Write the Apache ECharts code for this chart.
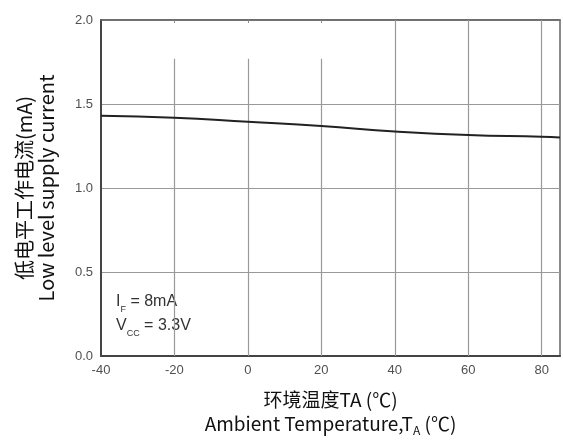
<!DOCTYPE html>
<html>
<head>
<meta charset="utf-8">
<script src="https://cdn.jsdelivr.net/npm/echarts@6/dist/echarts.min.js"></script>
<style>
html,body{margin:0;padding:0;background:#fff;}
#chart{width:563px;height:441px;}
</style>
</head>
<body>
<div id="chart"></div>
<script>
// Ambient temperature (°C) and low-level supply current (mA)
const temperature = [-40, -20, 0, 20, 40, 60, 80, 85];
const supplyCurrent = [1.43, 1.418, 1.394, 1.369, 1.337, 1.315, 1.305, 1.300];
const xTicks = [-40, -20, 0, 20, 40, 60, 80];
const yTicks = [0.0, 0.5, 1.0, 1.5, 2.0];
// Vertical grid lines that stop short of the top border
const shortGridX = [-20, 0, 20];
const shortGridTop = 1.77;
const fullGridX = [40, 60, 80];

const chart = echarts.init(document.getElementById('chart'));
const sans = '"Liberation Sans", Arial, sans-serif';
const cjk = '"Noto Sans CJK SC", "Open Sans", sans-serif';

chart.setOption({
  animation: false,
  grid: {
    left: 101, right: 3, top: 20, bottom: 85,
    outerBoundsMode: 'none',
    show: true, borderColor: '#666', borderWidth: 1.5
  },
  xAxis: [{
    type: 'value', min: -40, max: 85, interval: 20,
    axisLine: { show: true, onZero: false, lineStyle: { color: '#444', width: 2 } },
    axisTick: { show: false },
    splitLine: { show: false },
    axisLabel: {
      color: '#505050', fontFamily: sans, fontSize: 13, margin: 8,
      customValues: xTicks,
      formatter: v => String(v)
    },
    name: '{cn|环境温度TA (℃)}\n{en|Ambient Temperature,T}{sub|A}{en| (℃)}',
    nameLocation: 'middle',
    nameGap: 32,
    nameTextStyle: {
      rich: {
        cn: { fontFamily: cjk, fontSize: 19, color: '#111', lineHeight: 24 },
        en: { fontFamily: cjk, fontSize: 19, color: '#111', lineHeight: 24 },
        sub: { fontFamily: cjk, fontSize: 12, color: '#111', verticalAlign: 'bottom', padding: [9, 0, 0, 0], lineHeight: 24 }
      }
    }
  }, {
    type: 'value', position: 'top', min: -40, max: 85, interval: 20,
    axisLine: { show: true, onZero: false, lineStyle: { color: '#666', width: 1.5 } },
    axisTick: { show: true, inside: true, length: 3, customValues: shortGridX, lineStyle: { color: '#888' } },
    axisLabel: { show: false },
    splitLine: { show: false }
  }],
  yAxis: {
    type: 'value', min: 0, max: 2, interval: 0.5,
    axisLine: { show: true, onZero: false, lineStyle: { color: '#444', width: 2 } },
    axisTick: { show: false },
    splitLine: { show: true, lineStyle: { color: '#999', width: 1.2 } },
    axisLabel: {
      color: '#505050', fontFamily: sans, fontSize: 13, margin: 8,
      formatter: v => yTicks.includes(v) ? v.toFixed(1) : ''
    },
    name: '{cn|低电平工作电流(mA)}\n{en|Low level supply current}',
    nameLocation: 'middle',
    nameGap: 44,
    nameTextStyle: {
      rich: {
        cn: { fontFamily: cjk, fontSize: 20, color: '#111', lineHeight: 22 },
        en: { fontFamily: cjk, fontSize: 20, color: '#111', lineHeight: 22 }
      }
    }
  },
  series: [{
    type: 'line',
    data: temperature.map((t, i) => [t, supplyCurrent[i]]),
    smooth: true,
    showSymbol: false,
    lineStyle: { color: '#222', width: 2 },
    markLine: {
      silent: true, symbol: 'none', label: { show: false },
      lineStyle: { color: '#999', width: 1.2, type: 'solid' },
      data: [
        ...shortGridX.map(x => [{ coord: [x, shortGridTop] }, { coord: [x, 0] }]),
        ...fullGridX.map(x => [{ coord: [x, 2] }, { coord: [x, 0] }])
      ]
    },
    z: 5
  }],
  graphic: [{
    type: 'text', left: 116, top: 294,
    style: {
      text: '{m|I}{s|F}{m| = 8mA}\n{m|V}{s|CC}{m| = 3.3V}',
      rich: {
        m: { fontFamily: sans, fontSize: 16, fill: '#333', lineHeight: 24 },
        s: { fontFamily: sans, fontSize: 9, fill: '#333', verticalAlign: 'bottom', padding: [7, 0, 0, 0], lineHeight: 24 }
      }
    }
  }]
});
</script>
</body>
</html>
